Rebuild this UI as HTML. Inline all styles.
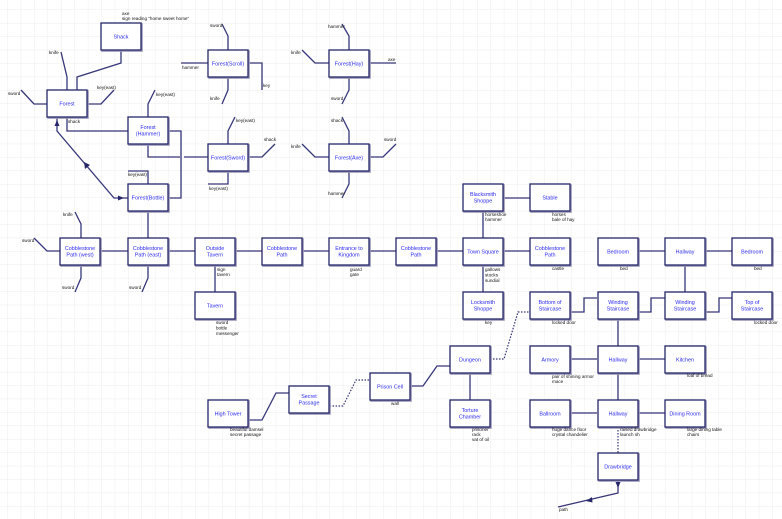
<!DOCTYPE html>
<html><head><meta charset="utf-8"><style>
html,body{margin:0;padding:0;background:#fff;}
svg{display:block;}
.b{fill:#fff;stroke:#26266a;stroke-width:1.3;}
.s{fill:none;stroke:#9a98b8;stroke-width:1.6;}
.l{fill:none;stroke:#36367a;stroke-width:1.3;}
.d{fill:none;stroke:#36367a;stroke-width:1.2;stroke-dasharray:1.5,1.5;}
.t{font-family:"Liberation Sans",sans-serif;font-size:5.4px;fill:#2a2aee;text-anchor:middle;}
.a{font-family:"Liberation Sans",sans-serif;font-size:4.6px;fill:#111;}
</style></head><body>
<svg width="782" height="519" viewBox="0 0 782 519" xmlns="http://www.w3.org/2000/svg">
<defs>
<pattern id="g" x="7.3" y="9.5" width="13.42" height="13.42" patternUnits="userSpaceOnUse">
<path d="M0 0H13.42M0 0V13.42" stroke="#ececec" stroke-width="0.9" fill="none"/>
</pattern>
</defs>
<rect width="782" height="519" fill="url(#g)"/>

<g class="l">
<path d="M67 90V77L61 52"/>
<path d="M77 90V77L121 63V50"/>
<path d="M47 104H34L21 90"/>
<path d="M87 104H101L114 90"/>
<path d="M67 117V131H128"/>
<path d="M57 117V131L114 198H128"/>
<path d="M148 117V104L155 90"/>
<path d="M168 131H181V198H168"/>
<path d="M148 144V157H180M184 157H208"/>
<path d="M148 184V171H128"/>
<path d="M148 211V238"/>
<path d="M228 50V36L222 24"/>
<path d="M208 63H181"/>
<path d="M248 63H262V90"/>
<path d="M228 77V90L222 104"/>
<path d="M349 50V36L342 24"/>
<path d="M329 63H315L302 50"/>
<path d="M369 63H396"/>
<path d="M349 77V90L342 104"/>
<path d="M228 144V131L235 117"/>
<path d="M248 157H262L275 144"/>
<path d="M228 171V184H208"/>
<path d="M349 144V131L342 117"/>
<path d="M329 157H315L302 144"/>
<path d="M369 157H383L396 144"/>
<path d="M349 171V184L342 198"/>
<path d="M101 251H530"/>
<path d="M638 251H665M705 251H732"/>
<path d="M60 251H47L34 238"/>
<path d="M81 238V224L75 212"/>
<path d="M81 265V278L75 292"/>
<path d="M148 265V278L142 292"/>
<path d="M215 265V292"/>
<path d="M483 211V238M483 265V292"/>
<path d="M503 198H530"/>
<path d="M685 265V292"/>
<path d="M571 312H584V298H597"/>
<path d="M638 312H651V298H665"/>
<path d="M705 312H719V298H732"/>
<path d="M618 319V346"/>
<path d="M571 359H597M638 359H665"/>
<path d="M618 373V400"/>
<path d="M571 413H597M638 413H665"/>
<path d="M618 480V493L558 507"/>
<path d="M450 366H437L423 386H410"/>
<path d="M470 373V400"/>
<path d="M249 420H262L276 393H289"/>
</g>
<g class="d">
<path d="M369 380H356L343 406H329"/>
<path d="M490 359H504L518 312H530"/>
<path d="M618 427V453"/>
</g>
<g fill="#26266a">
<polygon points="57,120 54.5,126 59.5,126"/>
<polygon points="84,162 85,169 90,165"/>
<polygon points="124,198 118,195.5 118,200.5"/>
<polygon points="618,488 615.5,482 620.5,482"/>
<polygon points="586,501 592,497 592.5,502.5"/>
</g>

<g>
<g transform="translate(101,23)"><rect class="s" x="1" y="1" width="40" height="27"/><rect class="b" width="40" height="27"/><text class="t" x="20" y="15.5">Shack</text></g>
<g transform="translate(47,90)"><rect class="s" x="1" y="1" width="40" height="27"/><rect class="b" width="40" height="27"/><text class="t" x="20" y="15.5">Forest</text></g>
<g transform="translate(128,117)"><rect class="s" x="1" y="1" width="40" height="27"/><rect class="b" width="40" height="27"/><text class="t" x="20" y="12">Forest</text><text class="t" x="20" y="18.5">(Hammer)</text></g>
<g transform="translate(208,50)"><rect class="s" x="1" y="1" width="40" height="27"/><rect class="b" width="40" height="27"/><text class="t" x="20" y="15.5">Forest(Scroll)</text></g>
<g transform="translate(329,50)"><rect class="s" x="1" y="1" width="40" height="27"/><rect class="b" width="40" height="27"/><text class="t" x="20" y="15.5">Forest(Hay)</text></g>
<g transform="translate(208,144)"><rect class="s" x="1" y="1" width="40" height="27"/><rect class="b" width="40" height="27"/><text class="t" x="20" y="15.5">Forest(Sword)</text></g>
<g transform="translate(329,144)"><rect class="s" x="1" y="1" width="40" height="27"/><rect class="b" width="40" height="27"/><text class="t" x="20" y="15.5">Forest(Axe)</text></g>
<g transform="translate(128,184)"><rect class="s" x="1" y="1" width="40" height="27"/><rect class="b" width="40" height="27"/><text class="t" x="20" y="15.5">Forest(Bottle)</text></g>

<g transform="translate(60,238)"><rect class="s" x="1" y="1" width="40" height="27"/><rect class="b" width="40" height="27"/><text class="t" x="20" y="12">Cobblestone</text><text class="t" x="20" y="18.5">Path (west)</text></g>
<g transform="translate(128,238)"><rect class="s" x="1" y="1" width="40" height="27"/><rect class="b" width="40" height="27"/><text class="t" x="20" y="12">Cobblestone</text><text class="t" x="20" y="18.5">Path (east)</text></g>
<g transform="translate(195,238)"><rect class="s" x="1" y="1" width="40" height="27"/><rect class="b" width="40" height="27"/><text class="t" x="20" y="12">Outside</text><text class="t" x="20" y="18.5">Tavern</text></g>
<g transform="translate(262,238)"><rect class="s" x="1" y="1" width="40" height="27"/><rect class="b" width="40" height="27"/><text class="t" x="20" y="12">Cobblestone</text><text class="t" x="20" y="18.5">Path</text></g>
<g transform="translate(329,238)"><rect class="s" x="1" y="1" width="40" height="27"/><rect class="b" width="40" height="27"/><text class="t" x="20" y="12">Entrance to</text><text class="t" x="20" y="18.5">Kingdom</text></g>
<g transform="translate(396,238)"><rect class="s" x="1" y="1" width="40" height="27"/><rect class="b" width="40" height="27"/><text class="t" x="20" y="12">Cobblestone</text><text class="t" x="20" y="18.5">Path</text></g>
<g transform="translate(463,238)"><rect class="s" x="1" y="1" width="40" height="27"/><rect class="b" width="40" height="27"/><text class="t" x="20" y="15.5">Town Square</text></g>
<g transform="translate(530,238)"><rect class="s" x="1" y="1" width="40" height="27"/><rect class="b" width="40" height="27"/><text class="t" x="20" y="12">Cobblestone</text><text class="t" x="20" y="18.5">Path</text></g>
<g transform="translate(598,238)"><rect class="s" x="1" y="1" width="40" height="27"/><rect class="b" width="40" height="27"/><text class="t" x="20" y="15.5">Bedroom</text></g>
<g transform="translate(665,238)"><rect class="s" x="1" y="1" width="40" height="27"/><rect class="b" width="40" height="27"/><text class="t" x="20" y="15.5">Hallway</text></g>
<g transform="translate(732,238)"><rect class="s" x="1" y="1" width="40" height="27"/><rect class="b" width="40" height="27"/><text class="t" x="20" y="15.5">Bedroom</text></g>

<g transform="translate(463,184)"><rect class="s" x="1" y="1" width="40" height="27"/><rect class="b" width="40" height="27"/><text class="t" x="20" y="12">Blacksmith</text><text class="t" x="20" y="18.5">Shoppe</text></g>
<g transform="translate(530,184)"><rect class="s" x="1" y="1" width="40" height="27"/><rect class="b" width="40" height="27"/><text class="t" x="20" y="15.5">Stable</text></g>
<g transform="translate(195,292)"><rect class="s" x="1" y="1" width="40" height="27"/><rect class="b" width="40" height="27"/><text class="t" x="20" y="15.5">Tavern</text></g>
<g transform="translate(463,292)"><rect class="s" x="1" y="1" width="40" height="27"/><rect class="b" width="40" height="27"/><text class="t" x="20" y="12">Locksmith</text><text class="t" x="20" y="18.5">Shoppe</text></g>
<g transform="translate(530,292)"><rect class="s" x="1" y="1" width="40" height="27"/><rect class="b" width="40" height="27"/><text class="t" x="20" y="12">Bottom of</text><text class="t" x="20" y="18.5">Staircase</text></g>
<g transform="translate(598,292)"><rect class="s" x="1" y="1" width="40" height="27"/><rect class="b" width="40" height="27"/><text class="t" x="20" y="12">Winding</text><text class="t" x="20" y="18.5">Staircase</text></g>
<g transform="translate(665,292)"><rect class="s" x="1" y="1" width="40" height="27"/><rect class="b" width="40" height="27"/><text class="t" x="20" y="12">Winding</text><text class="t" x="20" y="18.5">Staircase</text></g>
<g transform="translate(732,292)"><rect class="s" x="1" y="1" width="40" height="27"/><rect class="b" width="40" height="27"/><text class="t" x="20" y="12">Top of</text><text class="t" x="20" y="18.5">Staircase</text></g>

<g transform="translate(530,346)"><rect class="s" x="1" y="1" width="40" height="27"/><rect class="b" width="40" height="27"/><text class="t" x="20" y="15.5">Armory</text></g>
<g transform="translate(598,346)"><rect class="s" x="1" y="1" width="40" height="27"/><rect class="b" width="40" height="27"/><text class="t" x="20" y="15.5">Hallway</text></g>
<g transform="translate(665,346)"><rect class="s" x="1" y="1" width="40" height="27"/><rect class="b" width="40" height="27"/><text class="t" x="20" y="15.5">Kitchen</text></g>
<g transform="translate(530,400)"><rect class="s" x="1" y="1" width="40" height="27"/><rect class="b" width="40" height="27"/><text class="t" x="20" y="15.5">Ballroom</text></g>
<g transform="translate(598,400)"><rect class="s" x="1" y="1" width="40" height="27"/><rect class="b" width="40" height="27"/><text class="t" x="20" y="15.5">Hallway</text></g>
<g transform="translate(665,400)"><rect class="s" x="1" y="1" width="40" height="27"/><rect class="b" width="40" height="27"/><text class="t" x="20" y="15.5">Dining Room</text></g>
<g transform="translate(598,453)"><rect class="s" x="1" y="1" width="40" height="27"/><rect class="b" width="40" height="27"/><text class="t" x="20" y="15.5">Drawbridge</text></g>

<g transform="translate(450,346)"><rect class="s" x="1" y="1" width="40" height="27"/><rect class="b" width="40" height="27"/><text class="t" x="20" y="15.5">Dungeon</text></g>
<g transform="translate(450,400)"><rect class="s" x="1" y="1" width="40" height="27"/><rect class="b" width="40" height="27"/><text class="t" x="20" y="12">Torture</text><text class="t" x="20" y="18.5">Chamber</text></g>
<g transform="translate(370,373)"><rect class="s" x="1" y="1" width="40" height="27"/><rect class="b" width="40" height="27"/><text class="t" x="20" y="15.5">Prison Cell</text></g>
<g transform="translate(289,386)"><rect class="s" x="1" y="1" width="40" height="27"/><rect class="b" width="40" height="27"/><text class="t" x="20" y="12">Secret</text><text class="t" x="20" y="18.5">Passage</text></g>
<g transform="translate(208,400)"><rect class="s" x="1" y="1" width="40" height="27"/><rect class="b" width="40" height="27"/><text class="t" x="20" y="15.5">High Tower</text></g>
</g>

<g class="a">
<text x="122" y="15">axe</text><text x="122" y="20">sign reading "home sweet home"</text>
<text x="49" y="54">knife</text>
<text x="8" y="95">sword</text>
<text x="97" y="89">key(east)</text>
<text x="68" y="123">shack</text>
<text x="156" y="96">key(east)</text>
<text x="128" y="176">key(east)</text>
<text x="210" y="27">sword</text>
<text x="182" y="69">hammer</text>
<text x="263" y="87">key</text>
<text x="210" y="100">knife</text>
<text x="328" y="28">hammer</text>
<text x="291" y="54">knife</text>
<text x="388" y="61">axe</text>
<text x="331" y="100">sword</text>
<text x="236" y="122">key(east)</text>
<text x="264" y="141">shack</text>
<text x="209" y="190">key(east)</text>
<text x="331" y="122">shack</text>
<text x="291" y="148">knife</text>
<text x="384" y="141">sword</text>
<text x="328" y="195">hammer</text>
<text x="22" y="242">sword</text>
<text x="63" y="216">knife</text>
<text x="62" y="289">sword</text>
<text x="129" y="289">sword</text>
<text x="217" y="271">sign</text><text x="217" y="276">tavern</text>
<text x="216" y="324">sword</text><text x="216" y="329.5">bottle</text><text x="216" y="335">messenger</text>
<text x="350" y="271">guard</text><text x="350" y="276">gate</text>
<text x="485" y="216">horseshoe</text><text x="485" y="221">hammer</text>
<text x="552" y="216">horses</text><text x="552" y="221">bale of hay</text>
<text x="485" y="271">gallows</text><text x="485" y="276.5">stocks</text><text x="485" y="282">sundial</text>
<text x="552" y="270">castle</text>
<text x="620" y="270">bed</text>
<text x="754" y="270">bed</text>
<text x="485" y="324">key</text>
<text x="552" y="324">locked door</text>
<text x="754" y="324">locked door</text>
<text x="552" y="378">pair of shining armor</text><text x="552" y="383">mace</text>
<text x="687" y="377">loaf of bread</text>
<text x="552" y="431">huge dance floor</text><text x="552" y="436">crystal chandelier</text>
<text x="620" y="431">raised drawbridge</text><text x="620" y="436">launch sh</text>
<text x="687" y="431">large dining table</text><text x="687" y="436">chairs</text>
<text x="559" y="511">path</text>
<text x="391" y="405">wall</text>
<text x="230" y="431">beautiful damsel</text><text x="230" y="436">secret passage</text>
<text x="472" y="431">prisoner</text><text x="472" y="436">rack</text><text x="472" y="441">vat of oil</text>
</g>
</svg>
</body></html>
